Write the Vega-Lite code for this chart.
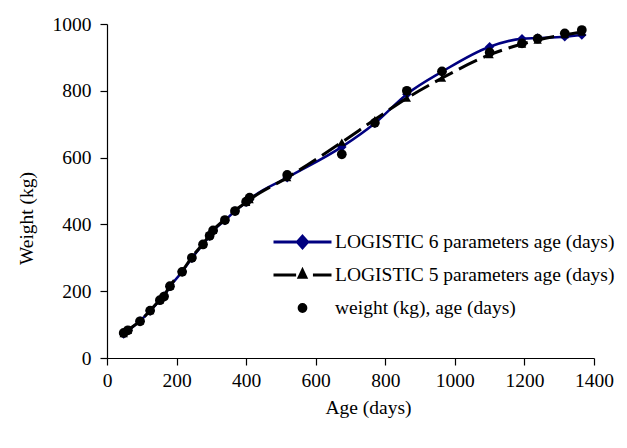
{
  "$schema": "https://vega.github.io/schema/vega-lite/v6.json",
  "width": 487,
  "height": 334,
  "autosize": {"type": "none"},
  "padding": {"left": 107, "top": 24, "right": 33, "bottom": 90},
  "background": "white",
  "config": {
    "view": {"stroke": null},
    "font": "'Liberation Serif', 'DejaVu Serif', serif",
    "axis": {
      "grid": false,
      "domainColor": "#000000",
      "domainWidth": 1.2,
      "tickColor": "#000000",
      "tickWidth": 1.2,
      "tickSize": 7,
      "labelFont": "'Liberation Serif', 'DejaVu Serif', serif",
      "labelFontSize": 19.5,
      "labelColor": "#000000",
      "titleFont": "'Liberation Serif', 'DejaVu Serif', serif",
      "titleFontSize": 19.5,
      "titleFontWeight": "normal",
      "titleColor": "#000000",
      "format": "d"
    },
    "legend": {
      "labelFont": "'Liberation Serif', 'DejaVu Serif', serif",
      "labelFontSize": 19.5,
      "labelColor": "#000000",
      "labelLimit": 0,
      "padding": 0
    }
  },
  "data": {
    "values": [
      {"series": "weight (kg), age (days)", "age": 48, "weight": 75},
      {"series": "weight (kg), age (days)", "age": 60, "weight": 83},
      {"series": "weight (kg), age (days)", "age": 95, "weight": 110},
      {"series": "weight (kg), age (days)", "age": 124, "weight": 142},
      {"series": "weight (kg), age (days)", "age": 152, "weight": 173},
      {"series": "weight (kg), age (days)", "age": 164, "weight": 184},
      {"series": "weight (kg), age (days)", "age": 181, "weight": 215},
      {"series": "weight (kg), age (days)", "age": 216, "weight": 258},
      {"series": "weight (kg), age (days)", "age": 244, "weight": 300},
      {"series": "weight (kg), age (days)", "age": 276, "weight": 340},
      {"series": "weight (kg), age (days)", "age": 295, "weight": 366},
      {"series": "weight (kg), age (days)", "age": 305, "weight": 382},
      {"series": "weight (kg), age (days)", "age": 339, "weight": 413},
      {"series": "weight (kg), age (days)", "age": 368, "weight": 440},
      {"series": "weight (kg), age (days)", "age": 400, "weight": 468},
      {"series": "weight (kg), age (days)", "age": 410, "weight": 480},
      {"series": "weight (kg), age (days)", "age": 518, "weight": 548},
      {"series": "weight (kg), age (days)", "age": 675, "weight": 610},
      {"series": "weight (kg), age (days)", "age": 770, "weight": 704},
      {"series": "weight (kg), age (days)", "age": 862, "weight": 800},
      {"series": "weight (kg), age (days)", "age": 963, "weight": 858},
      {"series": "weight (kg), age (days)", "age": 1100, "weight": 915},
      {"series": "weight (kg), age (days)", "age": 1193, "weight": 942},
      {"series": "weight (kg), age (days)", "age": 1238, "weight": 956},
      {"series": "weight (kg), age (days)", "age": 1316, "weight": 972},
      {"series": "weight (kg), age (days)", "age": 1365, "weight": 982},

      {"series": "LOGISTIC 6 parameters age (days)", "age": 48, "weight": 72},
      {"series": "LOGISTIC 6 parameters age (days)", "age": 60, "weight": 82},
      {"series": "LOGISTIC 6 parameters age (days)", "age": 95, "weight": 111},
      {"series": "LOGISTIC 6 parameters age (days)", "age": 124, "weight": 141},
      {"series": "LOGISTIC 6 parameters age (days)", "age": 152, "weight": 173},
      {"series": "LOGISTIC 6 parameters age (days)", "age": 164, "weight": 186},
      {"series": "LOGISTIC 6 parameters age (days)", "age": 181, "weight": 214},
      {"series": "LOGISTIC 6 parameters age (days)", "age": 216, "weight": 258},
      {"series": "LOGISTIC 6 parameters age (days)", "age": 244, "weight": 299},
      {"series": "LOGISTIC 6 parameters age (days)", "age": 276, "weight": 340},
      {"series": "LOGISTIC 6 parameters age (days)", "age": 295, "weight": 365},
      {"series": "LOGISTIC 6 parameters age (days)", "age": 305, "weight": 380},
      {"series": "LOGISTIC 6 parameters age (days)", "age": 339, "weight": 412},
      {"series": "LOGISTIC 6 parameters age (days)", "age": 368, "weight": 440},
      {"series": "LOGISTIC 6 parameters age (days)", "age": 400, "weight": 466},
      {"series": "LOGISTIC 6 parameters age (days)", "age": 410, "weight": 475},
      {"series": "LOGISTIC 6 parameters age (days)", "age": 518, "weight": 540},
      {"series": "LOGISTIC 6 parameters age (days)", "age": 675, "weight": 632},
      {"series": "LOGISTIC 6 parameters age (days)", "age": 770, "weight": 703},
      {"series": "LOGISTIC 6 parameters age (days)", "age": 862, "weight": 790},
      {"series": "LOGISTIC 6 parameters age (days)", "age": 963, "weight": 857},
      {"series": "LOGISTIC 6 parameters age (days)", "age": 1100, "weight": 932},
      {"series": "LOGISTIC 6 parameters age (days)", "age": 1193, "weight": 956},
      {"series": "LOGISTIC 6 parameters age (days)", "age": 1238, "weight": 958},
      {"series": "LOGISTIC 6 parameters age (days)", "age": 1316, "weight": 962},
      {"series": "LOGISTIC 6 parameters age (days)", "age": 1365, "weight": 967},

      {"series": "LOGISTIC 5 parameters age (days)", "age": 48, "weight": 73},
      {"series": "LOGISTIC 5 parameters age (days)", "age": 60, "weight": 83},
      {"series": "LOGISTIC 5 parameters age (days)", "age": 95, "weight": 111},
      {"series": "LOGISTIC 5 parameters age (days)", "age": 124, "weight": 142},
      {"series": "LOGISTIC 5 parameters age (days)", "age": 152, "weight": 174},
      {"series": "LOGISTIC 5 parameters age (days)", "age": 164, "weight": 187},
      {"series": "LOGISTIC 5 parameters age (days)", "age": 181, "weight": 216},
      {"series": "LOGISTIC 5 parameters age (days)", "age": 216, "weight": 260},
      {"series": "LOGISTIC 5 parameters age (days)", "age": 244, "weight": 302},
      {"series": "LOGISTIC 5 parameters age (days)", "age": 276, "weight": 342},
      {"series": "LOGISTIC 5 parameters age (days)", "age": 295, "weight": 368},
      {"series": "LOGISTIC 5 parameters age (days)", "age": 305, "weight": 382},
      {"series": "LOGISTIC 5 parameters age (days)", "age": 339, "weight": 415},
      {"series": "LOGISTIC 5 parameters age (days)", "age": 368, "weight": 442},
      {"series": "LOGISTIC 5 parameters age (days)", "age": 400, "weight": 466},
      {"series": "LOGISTIC 5 parameters age (days)", "age": 410, "weight": 474},
      {"series": "LOGISTIC 5 parameters age (days)", "age": 518, "weight": 540},
      {"series": "LOGISTIC 5 parameters age (days)", "age": 675, "weight": 646},
      {"series": "LOGISTIC 5 parameters age (days)", "age": 770, "weight": 714},
      {"series": "LOGISTIC 5 parameters age (days)", "age": 862, "weight": 778},
      {"series": "LOGISTIC 5 parameters age (days)", "age": 963, "weight": 838},
      {"series": "LOGISTIC 5 parameters age (days)", "age": 1100, "weight": 908},
      {"series": "LOGISTIC 5 parameters age (days)", "age": 1193, "weight": 940},
      {"series": "LOGISTIC 5 parameters age (days)", "age": 1238, "weight": 952},
      {"series": "LOGISTIC 5 parameters age (days)", "age": 1316, "weight": 968},
      {"series": "LOGISTIC 5 parameters age (days)", "age": 1365, "weight": 976}
    ]
  },
  "encoding": {
    "x": {
      "field": "age", "type": "quantitative",
      "scale": {"domain": [0, 1400], "nice": false},
      "axis": {
        "values": [0, 200, 400, 600, 800, 1000, 1200, 1400],
        "title": "Age (days)",
        "labelPadding": 6,
        "labelFlush": false,
        "titlePadding": 9,
        "titleX": 261
      }
    },
    "y": {
      "field": "weight", "type": "quantitative",
      "scale": {"domain": [0, 1000], "nice": false},
      "axis": {
        "values": [0, 200, 400, 600, 800, 1000],
        "title": "Weight (kg)",
        "labelPadding": 9,
        "titlePadding": 16,
        "titleY": 194
      }
    },
    "color": {
      "field": "series", "type": "nominal",
      "scale": {
        "domain": ["LOGISTIC 6 parameters age (days)", "LOGISTIC 5 parameters age (days)", "weight (kg), age (days)"],
        "range": ["#000080", "#000000", "#000000"]
      },
      "legend": {
        "title": null,
        "orient": "none",
        "legendX": 165,
        "legendY": 208,
        "symbolSize": 3364,
        "symbolStrokeWidth": 2.8,
        "labelOffset": 2,
        "clipHeight": 20,
        "rowPadding": 13,
        "labelLimit": 0,
        "encode": {
          "symbols": {
            "update": {
              "shape": {"signal": "indexof(datum.value, '6 par') >= 0 ? 'M-1,0L1,0M0,-0.2L0.18,0L0,0.2L-0.18,0Z' : indexof(datum.value, '5 par') >= 0 ? 'M-1,0L-0.22,0M0.36,0L1,0M0,-0.17L0.12,0.08L-0.12,0.08Z' : 'M0.12,0A0.12,0.12,0,1,1,-0.12,0A0.12,0.12,0,1,1,0.12,0Z'"},
              "fill": {"signal": "indexof(datum.value, '6 par') >= 0 ? '#000080' : '#000000'"},
              "stroke": {"signal": "indexof(datum.value, '6 par') >= 0 ? '#000080' : '#000000'"},
              "opacity": {"value": 1},
              "fillOpacity": {"value": 1},
              "strokeOpacity": {"value": 1}
            }
          }
        }
      }
    }
  },
  "layer": [
    {
      "transform": [{"filter": "datum.series == 'LOGISTIC 6 parameters age (days)'"}],
      "mark": {"type": "line", "interpolate": "monotone", "strokeWidth": 2.5}
    },
    {
      "transform": [{"filter": "datum.series == 'LOGISTIC 6 parameters age (days)'"}],
      "mark": {"type": "point", "shape": "diamond", "filled": true, "size": 90, "opacity": 1}
    },
    {
      "transform": [{"filter": "datum.series == 'LOGISTIC 5 parameters age (days)'"}],
      "mark": {"type": "line", "interpolate": "monotone", "strokeWidth": 3, "strokeDash": [20, 7]}
    },
    {
      "transform": [{"filter": "datum.series == 'LOGISTIC 5 parameters age (days)'"}],
      "mark": {"type": "point", "shape": "triangle-up", "filled": true, "size": 70, "opacity": 1}
    },
    {
      "transform": [{"filter": "datum.series == 'weight (kg), age (days)'"}],
      "mark": {"type": "point", "shape": "circle", "filled": true, "size": 95, "opacity": 1}
    }
  ]
}
